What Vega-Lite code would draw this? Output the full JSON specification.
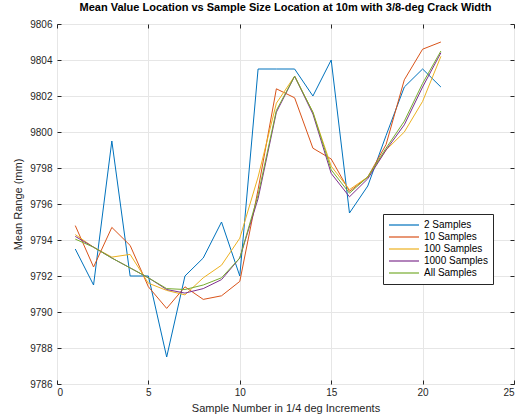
{
  "$schema": "https://vega.github.io/schema/vega-lite/v6.json",
  "width": 457,
  "height": 360,
  "autosize": {"type": "none"},
  "padding": {"left": 57, "top": 24, "right": 7, "bottom": 36},
  "title": {"text": "Mean Value Location vs Sample Size Location at 10m with 3/8-deg Crack Width", "font": "Liberation Sans", "fontSize": 11, "fontWeight": "bold", "color": "#000000", "offset": 6, "anchor": "middle"},
  "config": {
    "view": {"stroke": "#262626", "strokeWidth": 1},
    "axis": {"labelFont": "Liberation Sans", "titleFont": "Liberation Sans", "labelFontSize": 10, "titleFontSize": 11, "labelColor": "#262626", "titleColor": "#262626", "titleFontWeight": "normal", "gridColor": "#e6e6e6", "gridWidth": 1, "domainColor": "#262626", "tickColor": "#262626"}
  },
  "data": {"values": [
    {"x":1,"s":"2 Samples","v":9793.5},{"x":2,"s":"2 Samples","v":9791.5},{"x":3,"s":"2 Samples","v":9799.5},{"x":4,"s":"2 Samples","v":9792},{"x":5,"s":"2 Samples","v":9792},{"x":6,"s":"2 Samples","v":9787.5},{"x":7,"s":"2 Samples","v":9792},{"x":8,"s":"2 Samples","v":9793},{"x":9,"s":"2 Samples","v":9795},{"x":10,"s":"2 Samples","v":9792},{"x":11,"s":"2 Samples","v":9803.5},{"x":12,"s":"2 Samples","v":9803.5},{"x":13,"s":"2 Samples","v":9803.5},{"x":14,"s":"2 Samples","v":9802},{"x":15,"s":"2 Samples","v":9804},{"x":16,"s":"2 Samples","v":9795.5},{"x":17,"s":"2 Samples","v":9797},{"x":18,"s":"2 Samples","v":9799.8},{"x":19,"s":"2 Samples","v":9802.5},{"x":20,"s":"2 Samples","v":9803.5},{"x":21,"s":"2 Samples","v":9802.5},
    {"x":1,"s":"10 Samples","v":9794.8},{"x":2,"s":"10 Samples","v":9792.5},{"x":3,"s":"10 Samples","v":9794.7},{"x":4,"s":"10 Samples","v":9793.7},{"x":5,"s":"10 Samples","v":9791.4},{"x":6,"s":"10 Samples","v":9790.2},{"x":7,"s":"10 Samples","v":9791.4},{"x":8,"s":"10 Samples","v":9790.7},{"x":9,"s":"10 Samples","v":9790.9},{"x":10,"s":"10 Samples","v":9791.7},{"x":11,"s":"10 Samples","v":9796.8},{"x":12,"s":"10 Samples","v":9802.4},{"x":13,"s":"10 Samples","v":9801.9},{"x":14,"s":"10 Samples","v":9799.1},{"x":15,"s":"10 Samples","v":9798.5},{"x":16,"s":"10 Samples","v":9796.7},{"x":17,"s":"10 Samples","v":9797.5},{"x":18,"s":"10 Samples","v":9799.3},{"x":19,"s":"10 Samples","v":9802.9},{"x":20,"s":"10 Samples","v":9804.6},{"x":21,"s":"10 Samples","v":9805},
    {"x":1,"s":"100 Samples","v":9794.3},{"x":2,"s":"100 Samples","v":9793.6},{"x":3,"s":"100 Samples","v":9793.05},{"x":4,"s":"100 Samples","v":9793.2},{"x":5,"s":"100 Samples","v":9791.6},{"x":6,"s":"100 Samples","v":9791.2},{"x":7,"s":"100 Samples","v":9790.95},{"x":8,"s":"100 Samples","v":9791.9},{"x":9,"s":"100 Samples","v":9792.6},{"x":10,"s":"100 Samples","v":9794.1},{"x":11,"s":"100 Samples","v":9797.5},{"x":12,"s":"100 Samples","v":9801.6},{"x":13,"s":"100 Samples","v":9803.1},{"x":14,"s":"100 Samples","v":9801.1},{"x":15,"s":"100 Samples","v":9798.1},{"x":16,"s":"100 Samples","v":9796.8},{"x":17,"s":"100 Samples","v":9797.5},{"x":18,"s":"100 Samples","v":9799},{"x":19,"s":"100 Samples","v":9800},{"x":20,"s":"100 Samples","v":9801.7},{"x":21,"s":"100 Samples","v":9804.2},
    {"x":1,"s":" 1000 Samples","v":9794.2},{"x":2,"s":" 1000 Samples","v":9793.6},{"x":3,"s":" 1000 Samples","v":9793.0},{"x":4,"s":" 1000 Samples","v":9792.45},{"x":5,"s":" 1000 Samples","v":9791.9},{"x":6,"s":" 1000 Samples","v":9791.25},{"x":7,"s":" 1000 Samples","v":9791.05},{"x":8,"s":" 1000 Samples","v":9791.3},{"x":9,"s":" 1000 Samples","v":9791.8},{"x":10,"s":" 1000 Samples","v":9793.0},{"x":11,"s":" 1000 Samples","v":9796.3},{"x":12,"s":" 1000 Samples","v":9801.1},{"x":13,"s":" 1000 Samples","v":9803.1},{"x":14,"s":" 1000 Samples","v":9801.0},{"x":15,"s":" 1000 Samples","v":9797.7},{"x":16,"s":" 1000 Samples","v":9796.4},{"x":17,"s":" 1000 Samples","v":9797.4},{"x":18,"s":" 1000 Samples","v":9799.0},{"x":19,"s":" 1000 Samples","v":9800.4},{"x":20,"s":" 1000 Samples","v":9802.5},{"x":21,"s":" 1000 Samples","v":9804.4},
    {"x":1,"s":"All Samples","v":9794.05},{"x":2,"s":"All Samples","v":9793.6},{"x":3,"s":"All Samples","v":9793.0},{"x":4,"s":"All Samples","v":9792.45},{"x":5,"s":"All Samples","v":9791.9},{"x":6,"s":"All Samples","v":9791.3},{"x":7,"s":"All Samples","v":9791.25},{"x":8,"s":"All Samples","v":9791.5},{"x":9,"s":"All Samples","v":9791.9},{"x":10,"s":"All Samples","v":9793.0},{"x":11,"s":"All Samples","v":9796.5},{"x":12,"s":"All Samples","v":9801.2},{"x":13,"s":"All Samples","v":9803.1},{"x":14,"s":"All Samples","v":9801.1},{"x":15,"s":"All Samples","v":9797.9},{"x":16,"s":"All Samples","v":9796.6},{"x":17,"s":"All Samples","v":9797.5},{"x":18,"s":"All Samples","v":9799.1},{"x":19,"s":"All Samples","v":9800.6},{"x":20,"s":"All Samples","v":9802.7},{"x":21,"s":"All Samples","v":9804.5}
  ]},
  "layer": [
    {
      "mark": {"type": "line", "strokeWidth": 1, "clip": true},
      "encoding": {
        "x": {"field": "x", "type": "quantitative", "scale": {"domain": [0, 25], "nice": false, "zero": false},
          "axis": {"values": [0,5,10,15,20,25], "format": "d", "title": "Sample Number in 1/4 deg Increments", "tickSize": -4, "labelPadding": 7, "titlePadding": 5, "domain": false}},
        "y": {"field": "v", "type": "quantitative", "scale": {"domain": [9786, 9806], "nice": false, "zero": false},
          "axis": {"values": [9786,9788,9790,9792,9794,9796,9798,9800,9802,9804,9806], "format": "d", "title": "Mean Range (mm)", "tickSize": -4, "labelPadding": 9, "titlePadding": 6, "domain": false}},
        "color": {"field": "s", "type": "nominal",
          "scale": {"domain": ["2 Samples", "10 Samples", "100 Samples", " 1000 Samples", "All Samples"], "range": ["#0072BD", "#D95319", "#EDB120", "#7E2F8E", "#77AC30"]},
          "legend": {"title": null, "orient": "none", "legendX": 326, "legendY": 190, "symbolType": "stroke", "symbolSize": 900, "symbolStrokeWidth": 1.2, "clipHeight": 12, "labelFont": "Liberation Sans", "labelFontSize": 10, "labelColor": "#000000", "strokeColor": "#262626", "fillColor": "#ffffff", "padding": 5, "rowPadding": 0, "labelOffset": 4, "symbolOffset": 0, "labelExpr": "test(/1000/, datum.label) ? '\u00a01000 Samples' : datum.label"}}
      }
    },
    {
      "mark": {"type": "line", "strokeWidth": 1, "opacity": 0},
      "encoding": {
        "x": {"field": "x", "type": "quantitative", "axis": {"orient": "top", "values": [0,5,10,15,20,25], "labels": false, "title": null, "tickSize": -4, "grid": false, "domain": false}},
        "y": {"field": "v", "type": "quantitative", "axis": {"orient": "right", "values": [9786,9788,9790,9792,9794,9796,9798,9800,9802,9804,9806], "labels": false, "title": null, "tickSize": -4, "grid": false, "domain": false}}
      }
    }
  ],
  "resolve": {"axis": {"x": "independent", "y": "independent"}}
}
